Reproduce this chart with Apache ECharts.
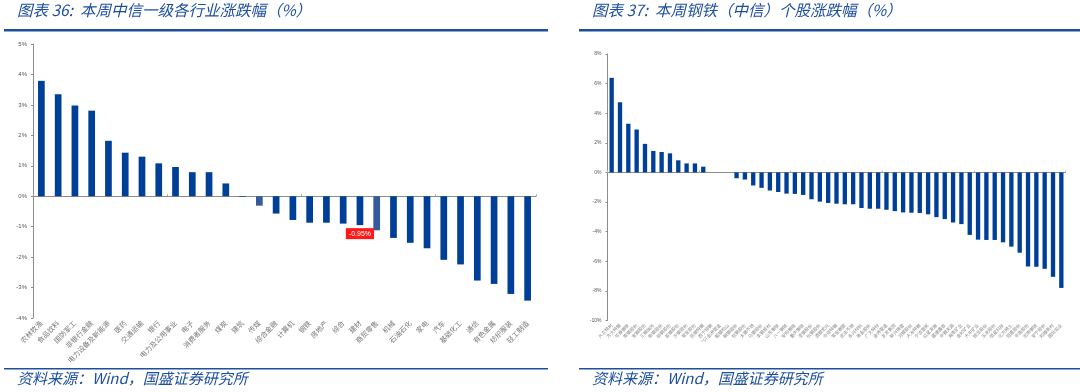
<!DOCTYPE html>
<html>
<head>
<meta charset="utf-8">
<script src="https://cdn.jsdelivr.net/npm/echarts@6/dist/echarts.min.js"></script>
<style>
  html, body { margin: 0; padding: 0; background: #fff; }
  #chart { width: 1080px; height: 392px; }
</style>
</head>
<body>
<div id="chart"></div>
<script>
// 图表36：中信一级行业
const industries = ['农林牧渔', '食品饮料', '国防军工', '非银行金融', '电力设备及新能源', '医药', '交通运输', '银行',
  '电力及公用事业', '电子', '消费者服务', '煤炭', '建筑', '传媒', '综合金融', '计算机', '钢铁', '房地产', '综合',
  '建材', '商贸零售', '机械', '石油石化', '家电', '汽车', '基础化工', '通信', '有色金属', '纺织服装', '轻工制造']
const industryChg = [3.79, 3.35, 2.98, 2.81, 1.82, 1.43, 1.30, 1.08, 0.96, 0.79, 0.79, 0.42, -0.02, -0.31,
  -0.57, -0.78, -0.87, -0.87, -0.90, -0.95, -1.12, -1.37, -1.53, -1.71, -2.09, -2.24, -2.77, -2.88, -3.21, -3.43]
const markedIndustry = '建材'
const lightIndustries = ['传媒', '商贸零售']

// 图表37：钢铁个股
const stocks = ['久立特材', '方大特钢', '华菱钢铁', '南钢股份', '宝钢股份', '三钢闽光', '新钢股份', '柳钢股份',
  '首钢股份', '沙钢股份', '常宝股份', '抚顺特钢', '西宁特钢', '*ST金洲管道', '韶钢松山', '鞍钢股份', '包钢股份',
  '太钢不锈', '马钢股份', '本钢板材', '山东钢铁', '八一钢铁', '安阳钢铁', '重庆钢铁', '凌钢股份', '杭钢股份',
  '酒钢宏兴', '中信特钢', '常宝钢管', '武进不锈', '永兴材料', '甬金股份', '广大特材', '金洲管道', '友发集团',
  '新兴铸管', '河钢股份', '大冶特钢', '宁波富邦', '红星发展', '盛德鑫泰', '中钢天源', '海南矿业', '金岭矿业',
  '大中矿业', '银龙股份', '玉龙股份', '恒星科技', '北方稀土', '冠盛股份', '中南股份', '龙腾钢铁', '安宁股份',
  '翔楼新材', '国际实业']
const stockChg = [6.39, 4.74, 3.29, 2.90, 1.93, 1.45, 1.38, 1.29, 0.82, 0.61, 0.61, 0.39, 0, 0, 0,
  -0.39, -0.48, -0.88, -1.04, -1.22, -1.32, -1.43, -1.45, -1.52, -1.81, -1.97, -2.06, -2.11, -2.15, -2.15,
  -2.40, -2.45, -2.45, -2.52, -2.61, -2.70, -2.72, -2.74, -2.83, -3.02, -3.15, -3.38, -3.49, -4.22, -4.54,
  -4.56, -4.56, -4.72, -5.01, -5.42, -6.35, -6.37, -6.51, -7.05, -7.80]

const titleLeft = '图表 36:  本周中信一级各行业涨跌幅（%）'
const titleRight = '图表 37:  本周钢铁（中信）个股涨跌幅（%）'
const sourceText = '资料来源：Wind，国盛证券研究所'

const barBlue = '#003f98'
const headBlue = '#1d4fa0'
const cjk = '"Noto Sans CJK SC", sans-serif'
const axisGray = '#8c8c8c'

const chart = echarts.init(document.getElementById('chart'))

const yAxisBase = (min, max, interval, size) => ({
  type: 'value',
  min: min,
  max: max,
  interval: interval,
  axisLine: { show: true, onZero: false, lineStyle: { color: axisGray, width: 1 } },
  axisTick: { show: true, length: 2, lineStyle: { color: axisGray } },
  splitLine: { show: false },
  axisLabel: { formatter: '{value}%', color: '#555', fontSize: size, fontFamily: 'Arial', margin: 6 }
})

// 零轴：只画线和刻度（放在 top，再靠 onZero 移到 0 处）
const zeroAxis = (grid, data, tickColor) => ({
  gridIndex: grid,
  type: 'category',
  data: data,
  position: 'top',
  axisLine: { show: true, onZero: true, lineStyle: { color: axisGray } },
  axisTick: { show: true, length: 2, lineStyle: { color: tickColor } },
  axisLabel: { show: false }
})

// 底部标签轴：只放类目名
const labelAxis = (grid, data, size, color) => ({
  gridIndex: grid,
  type: 'category',
  data: data,
  position: 'bottom',
  axisLine: { show: false, onZero: false },
  axisTick: { show: false },
  axisLabel: { interval: 0, rotate: 45, fontSize: size, color: color, fontFamily: cjk, margin: 4 }
})

const leftData = industryChg.map((v, i) => {
  const name = industries[i]
  const item = { value: v }
  if (lightIndustries.includes(name)) item.itemStyle = { color: '#34599c' }
  if (name === markedIndustry) {
    item.label = {
      show: true,
      position: 'bottom',
      distance: 3,
      formatter: v.toFixed(2) + '%',
      color: '#fff',
      backgroundColor: '#ff1a1a',
      fontSize: 7,
      fontFamily: 'Arial',
      padding: [2, 3]
    }
  }
  return item
})

const option = {
  animation: false,
  grid: [
    { left: 33, right: 544, top: 44, bottom: 74 },
    { left: 607.5, right: 14.5, top: 54, bottom: 71.5 }
  ],
  xAxis: [
    zeroAxis(0, industries, '#aaa'),
    labelAxis(0, industries, 7, '#777'),
    zeroAxis(1, stocks, '#bbb'),
    labelAxis(1, stocks, 4.5, '#888')
  ],
  yAxis: [
    Object.assign({ gridIndex: 0 }, yAxisBase(-4, 5, 1, 6)),
    Object.assign({ gridIndex: 1 }, yAxisBase(-10, 8, 2, 5))
  ],
  series: [
    {
      type: 'bar',
      xAxisIndex: 0,
      yAxisIndex: 0,
      data: leftData,
      barWidth: '40%',
      itemStyle: { color: barBlue }
    },
    {
      type: 'bar',
      xAxisIndex: 2,
      yAxisIndex: 1,
      data: stockChg,
      barWidth: '52%',
      itemStyle: { color: barBlue }
    }
  ],
  graphic: [
    { type: 'text', left: 17, top: 2, style: { text: titleLeft, fontSize: 15.5, fontStyle: 'italic', fill: headBlue, fontFamily: cjk } },
    { type: 'text', left: 592, top: 2, style: { text: titleRight, fontSize: 15.5, fontStyle: 'italic', fill: headBlue, fontFamily: cjk } },
    { type: 'rect', shape: { x: 4, y: 29, width: 544, height: 2.5 }, style: { fill: '#1f4e9c' } },
    { type: 'rect', shape: { x: 579, y: 29, width: 501, height: 2.5 }, style: { fill: '#1f4e9c' } },
    { type: 'rect', shape: { x: 4, y: 368, width: 544, height: 1.5 }, style: { fill: '#1f4e9c' } },
    { type: 'rect', shape: { x: 579, y: 368, width: 501, height: 1.5 }, style: { fill: '#1f4e9c' } },
    { type: 'text', left: 17, top: 371, style: { text: sourceText, fontSize: 15, fontStyle: 'italic', fill: headBlue, fontFamily: cjk } },
    { type: 'text', left: 592, top: 371, style: { text: sourceText, fontSize: 15, fontStyle: 'italic', fill: headBlue, fontFamily: cjk } }
  ]
}

chart.setOption(option)
</script>
</body>
</html>
